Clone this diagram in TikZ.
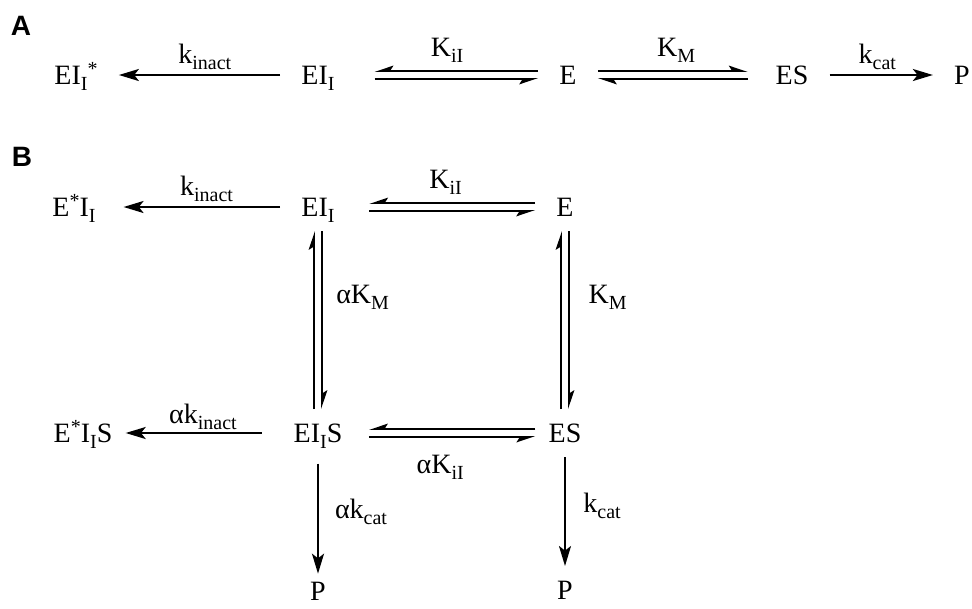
\documentclass[tikz,border=0pt]{standalone}
\usepackage{fontspec}
\setmainfont{Liberation Serif}
\newfontfamily\panelfont{Liberation Sans}
\usetikzlibrary{arrows.meta, positioning}
\newcommand{\sbs}[1]{\raisebox{-4.5pt}{\fontsize{15}{15}\selectfont #1}}
\newcommand{\sps}[1]{\raisebox{7pt}{\fontsize{15}{15}\selectfont #1}}

\begin{document}
\begin{tikzpicture}[x=0.75pt, y=-0.75pt,
    sp/.style={font=\fontsize{21}{25}\selectfont, inner sep=0pt, outer xsep=16pt, outer ysep=7pt, text height=18pt, text depth=4pt},
    panel/.style={font=\panelfont\bfseries\fontsize{21}{23}\selectfont, inner sep=0pt},
    lbl/.style={font=\fontsize{21}{25}\selectfont, inner sep=0pt, anchor=base},
    lblr/.style={font=\fontsize{21}{25}\selectfont, inner sep=0pt, anchor=west},
    rxn/.style={line width=1.6pt, -{Stealth[length=15pt, width=9pt, inset=3.5pt]}},
    hl/.style={line width=1.4pt, -{Stealth[harpoon, length=12pt, width=8pt, inset=2.5pt]}},
    hr/.style={line width=1.4pt, -{Stealth[harpoon, swap, length=12pt, width=8pt, inset=2.5pt]}}]
    \useasboundingbox (0,0) rectangle (972,608);

    % scheme A
    \node[panel] (pA) at (21,26) {A};
    \node[sp] (aEIs) at (76,75) {EI\sbs{I}\sps{*}};
    \node[sp] (aEI) at (318,75) {EI\sbs{I}};
    \node[sp] (aE) at (568,75) {E};
    \node[sp] (aES) at (792,75) {ES};
    \node[sp] (aP) at (962,75) {P};
    \draw[rxn] (aEI) -- node[lbl, yshift=9pt, xshift=4pt] (kinA) {k\sbs{inact}} (aEIs);
    \draw[hr, shorten >=14pt] ([yshift=3pt]aE.west) -- node[lbl, yshift=11pt] (kiA) {K\sbs{iI}} ([yshift=3pt]aEI.east);
    \draw[hr, shorten <=14pt] ([yshift=-3pt]aEI.east) -- ([yshift=-3pt]aE.west);
    \draw[hl, shorten >=5pt] ([yshift=3pt]aE.east) -- node[lbl, yshift=11pt] (kmA) {K\sbs{M}} ([yshift=3pt]aES.west);
    \draw[hl, shorten <=5pt] ([yshift=-3pt]aES.west) -- ([yshift=-3pt]aE.east);
    \draw[rxn] (aES) -- node[lbl, yshift=9pt, xshift=-3pt] (kcA) {k\sbs{cat}} (aP);

    % scheme B
    \node[panel] (pB) at (22,157) {B};
    \node[sp] (bEsI) at (74,207) {E\sps{*}I\sbs{I}};
    \node[sp] (bEI) at (318,207) {EI\sbs{I}};
    \node[sp] (bE) at (565,207) {E};
    \node[sp] (bEsIS) at (83,433) {E\sps{*}I\sbs{I}S};
    \node[sp] (bEIS) at (318,433) {EI\sbs{I}S};
    \node[sp] (bES) at (565,433) {ES};
    \node[sp] (bP1) at (318,591) {P};
    \node[sp] (bP2) at (565,590) {P};

    \draw[rxn, shorten >=5pt] (bEI) -- node[lbl, yshift=9pt, xshift=6pt] (kinB) {k\sbs{inact}} (bEsI);
    \draw[hr, shorten >=10pt] ([yshift=3pt]bE.west) -- node[lbl, yshift=11pt] (kiB) {K\sbs{iI}} ([yshift=3pt]bEI.east);
    \draw[hr, shorten <=10pt] ([yshift=-3pt]bEI.east) -- ([yshift=-3pt]bE.west);

    \draw[hl] ([xshift=-3pt]bEIS.north) -- ([xshift=-3pt]bEI.south);
    \draw[hl] ([xshift=3pt]bEI.south) -- node[lblr, pos=0.37, xshift=10pt] (akmB) {αK\sbs{M}} ([xshift=3pt]bEIS.north);
    \draw[hl] ([xshift=-3pt]bES.north) -- ([xshift=-3pt]bE.south);
    \draw[hl] ([xshift=3pt]bE.south) -- node[lblr, pos=0.37, xshift=14pt] (kmB) {K\sbs{M}} ([xshift=3pt]bES.north);

    \draw[rxn, shorten <=8pt, shorten >=-6pt] (bEIS) -- node[lbl, yshift=7pt] (akinB) {αk\sbs{inact}} (bEsIS);
    \draw[hr, shorten <=-6pt, shorten >=4pt] ([yshift=3pt]bES.west) -- ([yshift=3pt]bEIS.east);
    \draw[hr, shorten <=4pt, shorten >=-6pt] ([yshift=-3pt]bEIS.east) -- node[lbl, yshift=-27pt, xshift=-4pt] (akiB) {αK\sbs{iI}} ([yshift=-3pt]bES.west);

    \draw[rxn, shorten <=5pt, shorten >=-5pt] (bEIS) -- node[lblr, xshift=12pt] (akcB) {αk\sbs{cat}} (bP1);
    \draw[rxn] (bES) -- node[lblr, pos=0.45, xshift=13pt] (kcB) {k\sbs{cat}} (bP2);
\end{tikzpicture}
\end{document}
